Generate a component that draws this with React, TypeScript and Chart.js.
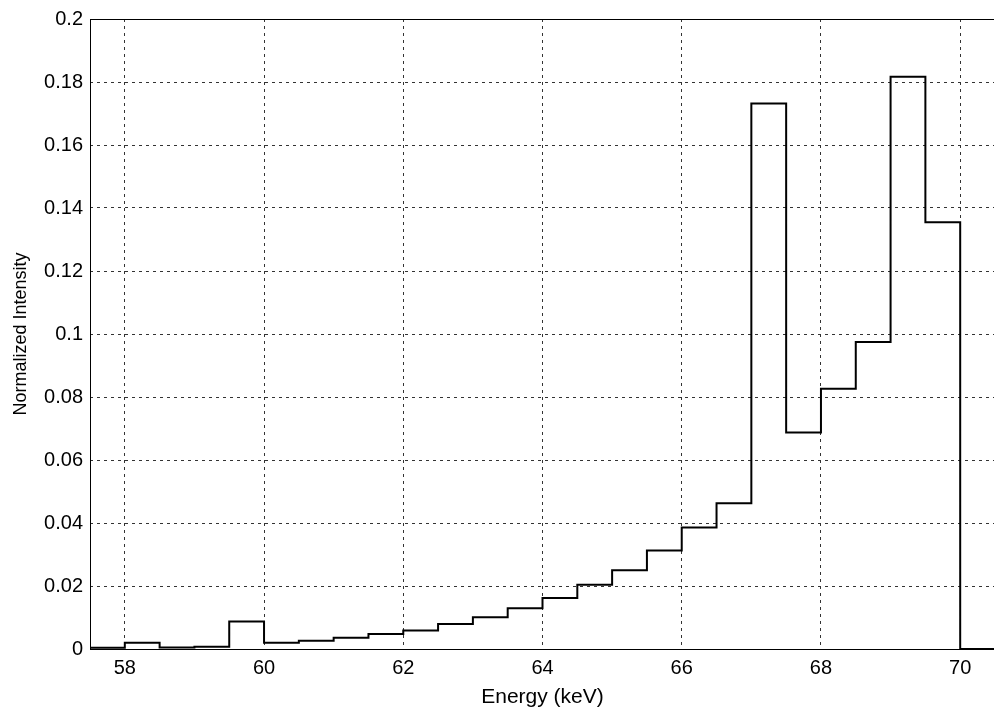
import React, { useEffect, useRef } from 'react';
import { Chart, registerables } from 'chart.js';

Chart.register(...registerables);

// Left edges of the 0.5 keV bins (last entry closes the final bin)
const binEdges = [
  57.5, 58, 58.5, 59, 59.5, 60, 60.5, 61, 61.5, 62, 62.5, 63, 63.5, 64,
  64.5, 65, 65.5, 66, 66.5, 67, 67.5, 68, 68.5, 69, 69.5, 70, 70.5,
];

// Normalized intensity of each bin
const intensities = [
  0.0004, 0.002, 0.0005, 0.0007, 0.0087, 0.002, 0.0026, 0.0036, 0.0048,
  0.0059, 0.0079, 0.0101, 0.0129, 0.0162, 0.0204, 0.025, 0.0313, 0.0386,
  0.0463, 0.1732, 0.0687, 0.0826, 0.0975, 0.1817, 0.1355, 0,
];

const xTickValues = [58, 60, 62, 64, 66, 68, 70];
const xTickLabels = ['58', '60', '62', '64', '66', '68', '70'];
const yTickValues = [0, 0.02, 0.04, 0.06, 0.08, 0.1, 0.12, 0.14, 0.16, 0.18, 0.2];
const yTickLabels = ['0', '0.02', '0.04', '0.06', '0.08', '0.1', '0.12', '0.14', '0.16', '0.18', '0.2'];

const FONT = '"Liberation Sans", Arial, Helvetica, sans-serif';

export default function App() {
  const ref = useRef<HTMLCanvasElement>(null);

  useEffect(() => {
    document.body.style.margin = '0';
    const canvas = ref.current;
    if (!canvas) return;

    const points = binEdges.map((x, i) => ({
      x,
      y: intensities[Math.min(i, intensities.length - 1)],
    }));

    const framePlugin = {
      id: 'frame',
      afterDatasetsDraw(chart: any) {
        const { ctx, chartArea } = chart;
        const { left, top, right, bottom } = chartArea;
        ctx.save();
        ctx.strokeStyle = '#000';
        ctx.lineWidth = 1;
        ctx.setLineDash([]);
        ctx.strokeRect(Math.round(left) + 0.5, Math.round(top) + 0.5, right - left, bottom - top);
        ctx.restore();
      },
    };

    const gridOpts = {
      color: '#333',
      lineWidth: 1,
      drawTicks: false,
    };
    const borderOpts = { display: false, dash: [3, 4] };

    const chart = new Chart(canvas, {
      type: 'line',
      data: {
        datasets: [
          {
            data: points,
            borderColor: '#000',
            borderWidth: 2,
            pointRadius: 0,
            fill: false,
            stepped: 'before',
            tension: 0,
          } as any,
        ],
      },
      options: {
        animation: false,
        responsive: false,
        devicePixelRatio: 1,
        layout: { padding: { top: 16, left: 0, right: 5, bottom: 0 } },
        plugins: {
          legend: { display: false },
          tooltip: { enabled: false },
        },
        scales: {
          x: {
            type: 'linear',
            min: 57.5,
            max: 70.5,
            afterBuildTicks: (s: any) => {
              s.ticks = xTickValues.map((v) => ({ value: v }));
            },
            afterFit: (s: any) => {
              s.height = 61;
            },
            ticks: {
              callback: (_v: any, i: number) => xTickLabels[i],
              color: '#000',
              font: { family: FONT, size: 20 },
              padding: 7,
              maxRotation: 0,
              autoSkip: false,
            },
            grid: gridOpts as any,
            border: borderOpts as any,
            title: {
              display: true,
              text: 'Energy (keV)',
              color: '#000',
              font: { family: FONT, size: 21 },
              padding: { top: 0, bottom: 0 },
            },
          },
          y: {
            type: 'linear',
            min: 0,
            max: 0.2,
            afterBuildTicks: (s: any) => {
              s.ticks = yTickValues.map((v) => ({ value: v }));
            },
            afterFit: (s: any) => {
              s.width = 90;
            },
            ticks: {
              callback: (_v: any, i: number) => yTickLabels[i],
              color: '#000',
              font: { family: FONT, size: 20 },
              padding: 7,
              autoSkip: false,
            },
            grid: gridOpts as any,
            border: borderOpts as any,
            title: {
              display: true,
              text: 'Normalized Intensity',
              color: '#000',
              font: { family: FONT, size: 18 },
              padding: { top: 10, bottom: 0 },
            },
          },
        },
      },
      plugins: [framePlugin],
    });

    return () => chart.destroy();
  }, []);

  return (
    <div
      style={{
        position: 'fixed',
        left: 0,
        top: 0,
        width: 994,
        height: 710,
        overflow: 'hidden',
        background: '#fff',
      }}
    >
      <canvas ref={ref} width={1000} height={710} style={{ display: 'block', width: 1000, height: 710 }} />
    </div>
  );
}
